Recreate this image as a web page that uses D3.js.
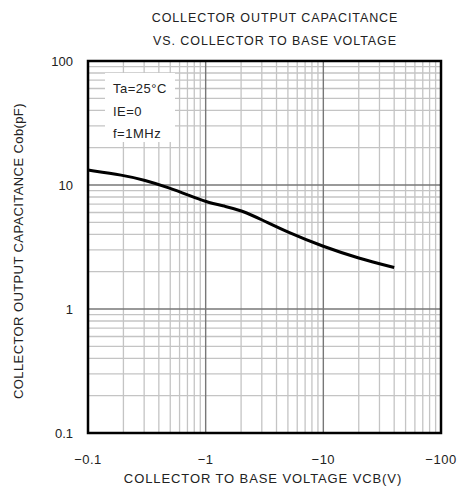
<!DOCTYPE html>
<html><head><meta charset="utf-8">
<script src="https://cdn.jsdelivr.net/npm/d3@7"></script>
<style>body{margin:0;background:#fff}svg{display:block}text{font-family:"Liberation Sans",Arial,sans-serif;fill:#222}</style>
</head><body>
<script>
const titleLines = ["COLLECTOR OUTPUT CAPACITANCE", "VS. COLLECTOR TO BASE VOLTAGE"];
const xTitle = "COLLECTOR TO BASE VOLTAGE VCB(V)";
const yTitle = "COLLECTOR OUTPUT CAPACITANCE Cob(pF)";
const legendLines = ["Ta=25°C", "IE=0", "f=1MHz"];
const xTicks = [0.1, 1, 10, 100];
const xTickLabels = ["−0.1", "−1", "−10", "−100"];
const yTicks = [0.1, 1, 10, 100];
const yTickLabels = ["0.1", "1", "10", "100"];
// |VCB| (V) and Cob (pF)
const vcb = [0.1, 0.2, 0.3, 0.5, 0.7, 1, 1.5, 2, 3, 5, 10, 20, 40];
const cob = [13.2, 12.0, 11.0, 9.45, 8.35, 7.3, 6.7, 6.25, 5.25, 4.15, 3.18, 2.56, 2.16];

const W = 461, H = 488;
const m = {l: 88, r: 441, t: 61, b: 433};
const svg = d3.select("body").append("svg").attr("width", W).attr("height", H);
const x = d3.scaleLog().domain([0.1, 100]).range([m.l, m.r]);
const y = d3.scaleLog().domain([0.1, 100]).range([m.b, m.t]);

// minor grid values
const minors = [];
[0.1, 1, 10].forEach(d => { for (let k = 2; k <= 9; k++) minors.push(+(d * k).toFixed(3)); });

const g = svg.append("g");
g.selectAll(".vmin").data(minors).enter().append("line")
  .attr("x1", d => x(d)).attr("x2", d => x(d)).attr("y1", m.t).attr("y2", m.b)
  .attr("stroke", "#c4c4c4").attr("stroke-width", 1.3);
g.selectAll(".hmin").data(minors).enter().append("line")
  .attr("y1", d => y(d)).attr("y2", d => y(d)).attr("x1", m.l).attr("x2", m.r)
  .attr("stroke", "#c4c4c4").attr("stroke-width", 1.3);
g.selectAll(".vmaj").data(xTicks).enter().append("line")
  .attr("x1", d => x(d)).attr("x2", d => x(d)).attr("y1", m.t).attr("y2", m.b)
  .attr("stroke", "#777").attr("stroke-width", 1.4);
g.selectAll(".hmaj").data(yTicks).enter().append("line")
  .attr("y1", d => y(d)).attr("y2", d => y(d)).attr("x1", m.l).attr("x2", m.r)
  .attr("stroke", "#777").attr("stroke-width", 1.4);

// legend box
svg.append("rect").attr("x", 105).attr("y", 73).attr("width", 70).attr("height", 69).attr("fill", "#fff");
svg.selectAll(".leg").data(legendLines).enter().append("text")
  .attr("x", 113).attr("y", (d, i) => 93 + i * 22.5).attr("font-size", 13).attr("letter-spacing", 0.5).text(d => d);

// curve
const line = d3.line().x((d, i) => x(vcb[i])).y(d => y(d)).curve(d3.curveBasis);
svg.append("path").datum(cob).attr("d", line).attr("fill", "none")
  .attr("stroke", "#000").attr("stroke-width", 3);

// frame
svg.append("rect").attr("x", m.l).attr("y", m.t).attr("width", m.r - m.l).attr("height", m.b - m.t)
  .attr("fill", "none").attr("stroke", "#000").attr("stroke-width", 2.5);

// tick labels
svg.selectAll(".xt").data(xTicks).enter().append("text")
  .attr("x", d => x(d)).attr("y", 464).attr("text-anchor", "middle").attr("font-size", 13).attr("letter-spacing", 0.5)
  .text((d, i) => xTickLabels[i]);
svg.selectAll(".yt").data(yTicks).enter().append("text")
  .attr("x", 73).attr("y", d => y(d) + 5).attr("text-anchor", "end").attr("font-size", 13)
  .text((d, i) => yTickLabels[i]);

// titles
svg.selectAll(".tt").data(titleLines).enter().append("text")
  .attr("x", 275).attr("y", (d, i) => 22 + i * 23).attr("text-anchor", "middle").attr("font-size", 12.5)
  .attr("letter-spacing", 0.9).text(d => d);
svg.append("text").attr("x", 263).attr("y", 483).attr("text-anchor", "middle").attr("font-size", 13)
  .attr("letter-spacing", 0.9).text(xTitle);
svg.append("text").attr("transform", "translate(23,251) rotate(-90)").attr("text-anchor", "middle")
  .attr("font-size", 13).attr("letter-spacing", 0.4).text(yTitle);
</script>
</body></html>
